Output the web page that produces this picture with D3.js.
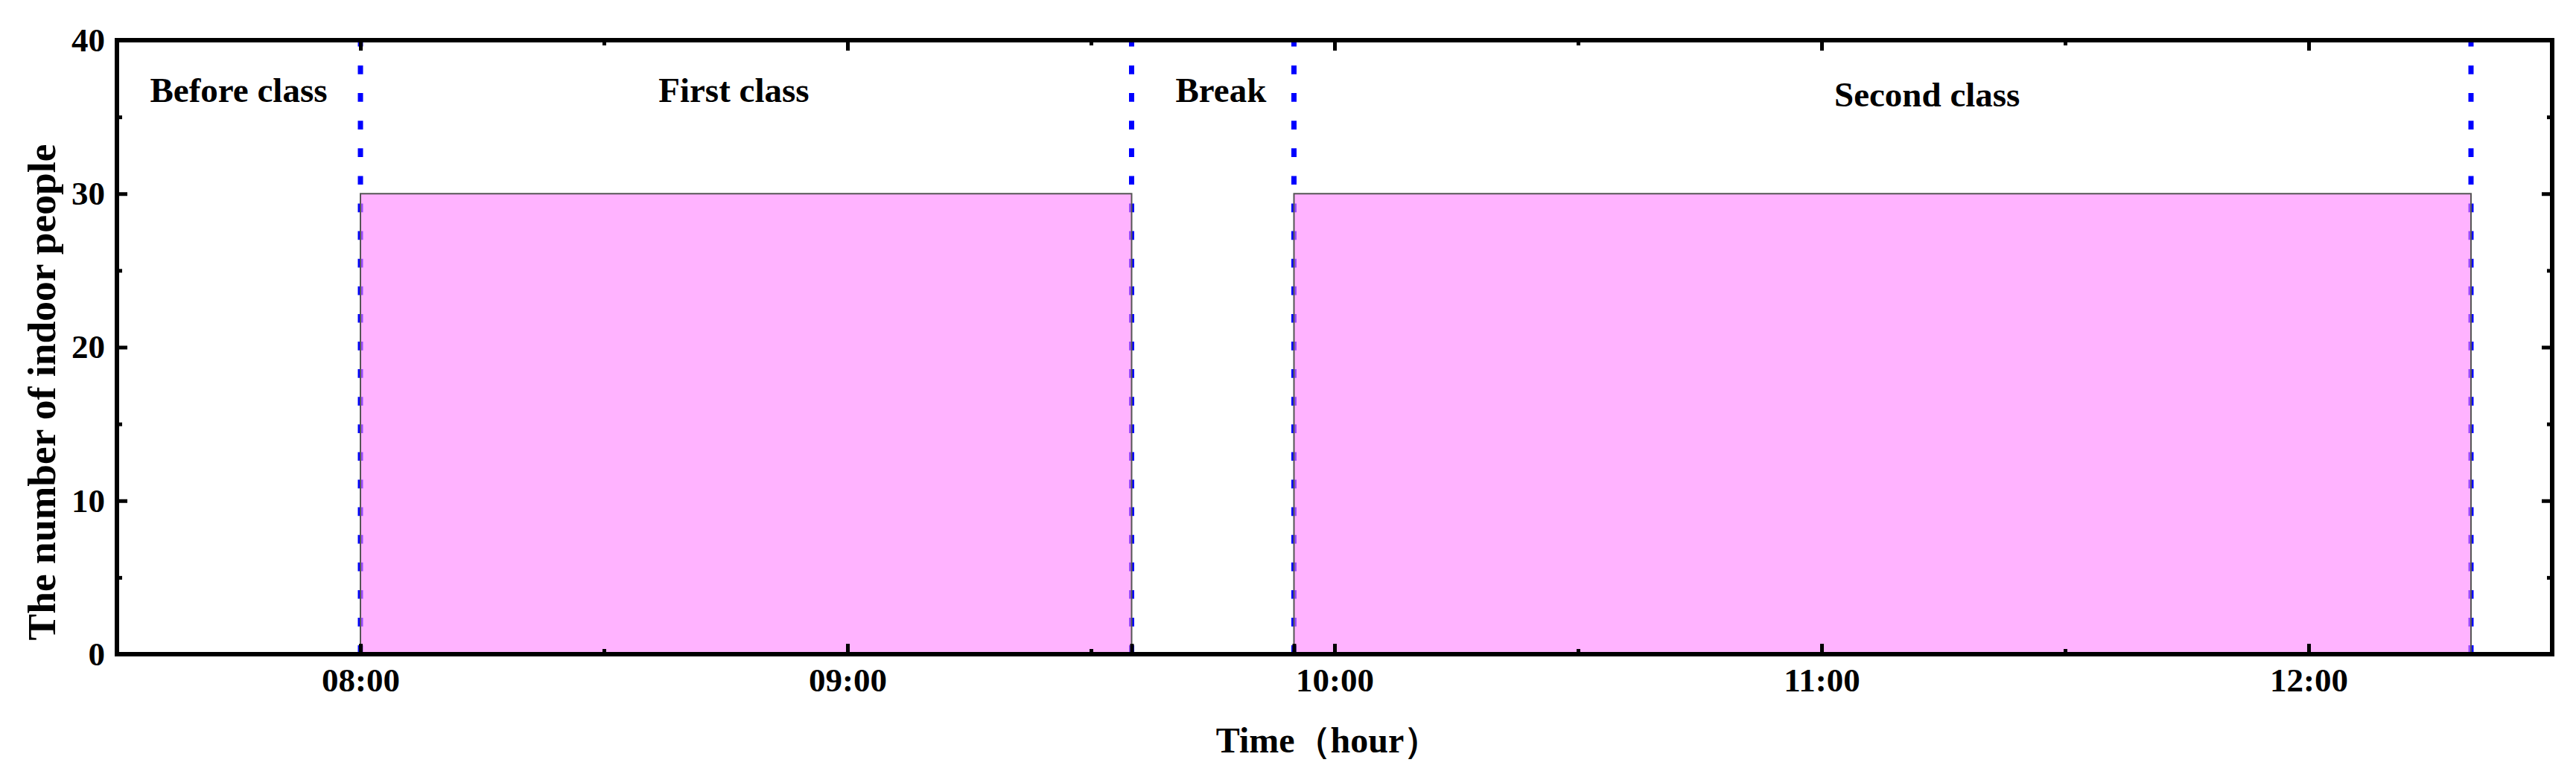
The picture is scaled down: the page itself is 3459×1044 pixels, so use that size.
<!DOCTYPE html>
<html>
<head>
<meta charset="utf-8">
<script src="https://cdn.jsdelivr.net/npm/d3@7"></script>
<style>
  html, body { margin: 0; padding: 0; background: #fff; }
  svg { display: block; }
  text { font-family: "Liberation Serif", "Times New Roman", serif; font-weight: bold; fill: #000; }
</style>
</head>
<body>
<script>
// ---------- data ----------
const xDomain = ["07:30", "12:30"];
const yDomain = [0, 40];
const xTickLabels = ["08:00", "09:00", "10:00", "11:00", "12:00"];
const xMinorTicks = ["08:30", "09:30", "10:30", "11:30"];
const yTickValues = [0, 10, 20, 30, 40];
const yMinorTicks = [5, 15, 25, 35];

const sessionStarts = ["08:00", "09:55"];
const sessionEnds   = ["09:35", "12:20"];
const sessionPeople = [30, 30];

const boundaryTimes = ["08:00", "09:35", "09:55", "12:20"];

const periodLabels = ["Before class", "First class", "Break", "Second class"];
const periodLabelTimes = ["07:45", "08:46", "09:46", "11:13"];
const periodLabelLevels = [36, 36, 36, 35.7];

const xTitle = "Time（hour）";
const yTitle = "The number of indoor people";

// ---------- layout ----------
const W = 3459, H = 1044;
const mLeft = 157, mRight = 3427, mTop = 54, mBottom = 879;

const parse = d3.timeParse("%H:%M");
const fmt = d3.timeFormat("%H:%M");

const svg = d3.select("body").append("svg").attr("width", W).attr("height", H);
svg.append("rect").attr("width", W).attr("height", H).attr("fill", "#fff");

const x = d3.scaleTime().domain(xDomain.map(parse)).range([mLeft, mRight]);
const y = d3.scaleLinear().domain(yDomain).range([mBottom, mTop]);

// dashed boundary lines
svg.append("g").selectAll("line").data(boundaryTimes).join("line")
  .attr("x1", d => x(parse(d))).attr("x2", d => x(parse(d)))
  .attr("y1", y(yDomain[1])).attr("y2", y(0))
  .attr("stroke", "#0000ff").attr("stroke-width", 7)
  .attr("stroke-dasharray", "11.7 25.4").attr("stroke-dashoffset", 3.1);

// bars (occupancy)
const sessions = sessionStarts.map((s, i) => ({ s: parse(s), e: parse(sessionEnds[i]), v: sessionPeople[i] }));
svg.append("g").selectAll("rect").data(sessions).join("rect")
  .attr("x", d => x(d.s)).attr("width", d => x(d.e) - x(d.s))
  .attr("y", d => y(d.v)).attr("height", d => y(0) - y(d.v))
  .attr("fill", "rgb(255,128,255)").attr("fill-opacity", 0.6)
  .attr("stroke", "#555555").attr("stroke-width", 2);

// axes
function styleAxis(g, w) {
  g.select(".domain").remove();
  g.selectAll(".tick line").attr("stroke", "#000").attr("stroke-width", w || 5);
  g.selectAll(".tick text").attr("fill", "#000");
  return g;
}
const tickFont = 45;

// bottom major
const gB = svg.append("g").attr("transform", `translate(0,${mBottom})`)
  .call(d3.axisBottom(x).tickValues(xTickLabels.map(parse)).tickFormat(fmt).tickSize(-14).tickPadding(18).tickSizeOuter(0));
styleAxis(gB);
gB.selectAll(".tick text").attr("font-size", tickFont).attr("font-family", "Liberation Serif, serif").attr("font-weight", "bold");
// bottom minor
styleAxis(svg.append("g").attr("transform", `translate(0,${mBottom})`)
  .call(d3.axisBottom(x).tickValues(xMinorTicks.map(parse)).tickFormat("").tickSize(-7).tickSizeOuter(0)));
// bottom marks at the break boundaries
styleAxis(svg.append("g").attr("transform", `translate(0,${mBottom})`)
  .call(d3.axisBottom(x).tickValues(boundaryTimes.slice(1, 3).map(parse)).tickFormat("").tickSize(-14).tickSizeOuter(0)));
// top
styleAxis(svg.append("g").attr("transform", `translate(0,${mTop})`)
  .call(d3.axisTop(x).tickValues(xTickLabels.map(parse)).tickFormat("").tickSize(-14).tickSizeOuter(0)));
styleAxis(svg.append("g").attr("transform", `translate(0,${mTop})`)
  .call(d3.axisTop(x).tickValues(xMinorTicks.map(parse)).tickFormat("").tickSize(-7).tickSizeOuter(0)));
// left
const gL = svg.append("g").attr("transform", `translate(${mLeft},0)`)
  .call(d3.axisLeft(y).tickValues(yTickValues).tickFormat(d3.format("d")).tickSize(-14).tickPadding(16).tickSizeOuter(0));
styleAxis(gL);
gL.selectAll(".tick text").attr("font-size", tickFont).attr("font-family", "Liberation Serif, serif").attr("font-weight", "bold");
styleAxis(svg.append("g").attr("transform", `translate(${mLeft},0)`)
  .call(d3.axisLeft(y).tickValues(yMinorTicks).tickFormat("").tickSize(-7).tickSizeOuter(0)));
// right
styleAxis(svg.append("g").attr("transform", `translate(${mRight},0)`)
  .call(d3.axisRight(y).tickValues(yTickValues).tickFormat("").tickSize(-14).tickSizeOuter(0)));
styleAxis(svg.append("g").attr("transform", `translate(${mRight},0)`)
  .call(d3.axisRight(y).tickValues(yMinorTicks).tickFormat("").tickSize(-7).tickSizeOuter(0)));

// frame
svg.append("rect").attr("x", mLeft).attr("y", mTop)
  .attr("width", mRight - mLeft).attr("height", mBottom - mTop)
  .attr("fill", "none").attr("stroke", "#000").attr("stroke-width", 6);

// period labels
svg.append("g").selectAll("text").data(periodLabels).join("text")
  .attr("x", (d, i) => x(parse(periodLabelTimes[i])))
  .attr("y", (d, i) => y(periodLabelLevels[i]))
  .attr("text-anchor", "middle").attr("font-size", 47)
  .text(d => d);

// axis titles
svg.append("text").attr("x", (mLeft + mRight) / 2 - 9).attr("y", 1011)
  .attr("text-anchor", "middle").attr("font-size", 48).text(xTitle);
svg.append("text").attr("transform", `translate(74,527) rotate(-90)`)
  .attr("text-anchor", "middle").attr("font-size", 53.5).text(yTitle);
</script>
</body>
</html>
